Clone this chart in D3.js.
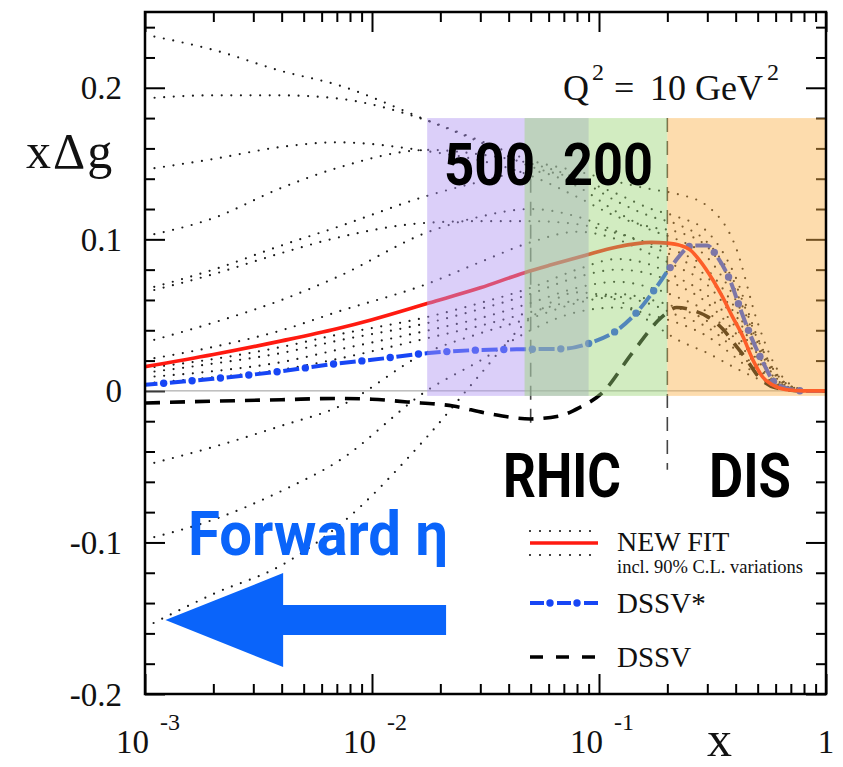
<!DOCTYPE html>
<html><head><meta charset="utf-8">
<script src="https://cdn.jsdelivr.net/npm/d3@7"></script>
<style>
html,body{margin:0;padding:0;background:#fff;}
svg{display:block;}
</style></head>
<body><svg id="chart" width="843" height="767"></svg>
<script>
// ---- data -------------------------------------------------------------
// shared x grid of the 90% C.L. variation curves
const varX = [0.001, 0.002, 0.004, 0.007, 0.0178, 0.03, 0.05, 0.08, 0.12, 0.17, 0.22, 0.3, 0.4, 0.5, 0.6, 0.7, 0.85, 1.0];
const varA  = [0.235, 0.225, 0.211, 0.202, 0.178, 0.164, 0.148, 0.140, 0.130, 0.120, 0.115, 0.105, 0.075, 0.035, 0.012, 0.003, 0, 0];
const varB  = [0.193, 0.195, 0.195, 0.193, 0.178, 0.165, 0.152, 0.145, 0.138, 0.133, 0.130, 0.122, 0.095, 0.045, 0.016, 0.004, 0, 0];
const varC  = [0.146, 0.153, 0.161, 0.164, 0.158, 0.152, 0.142, 0.128, 0.115, 0.108, 0.105, 0.095, 0.066, 0.032, 0.011, 0.003, 0, 0];
const varD  = [0.102, 0.114, 0.134, 0.147, 0.159, 0.156, 0.150, 0.140, 0.125, 0.115, 0.110, 0.098, 0.070, 0.034, 0.012, 0.003, 0, 0];
const varE1 = [0.065, 0.077, 0.091, 0.101, 0.111, 0.112, 0.112, 0.110, 0.104, 0.097, 0.092, 0.080, 0.054, 0.026, 0.009, 0.002, 0, 0];
const varE2 = [0.067, 0.080, 0.096, 0.108, 0.129, 0.138, 0.145, 0.135, 0.118, 0.106, 0.100, 0.088, 0.060, 0.029, 0.010, 0.002, 0, 0];
const varF  = [0.032, 0.045, 0.060, 0.075, 0.105, 0.115, 0.120, 0.115, 0.105, 0.095, 0.088, 0.075, 0.050, 0.024, 0.008, 0.002, 0, 0];
const varG  = [0.0205, 0.029, 0.040, 0.052, 0.071, 0.085, 0.098, 0.105, 0.100, 0.090, 0.082, 0.070, 0.046, 0.022, 0.007, 0.002, 0, 0];
const varH1 = [0.015, 0.021, 0.029, 0.037, 0.049, 0.058, 0.068, 0.080, 0.087, 0.083, 0.075, 0.063, 0.042, 0.020, 0.007, 0.001, 0, 0];
const varH2 = [0.012, 0.018, 0.025, 0.033, 0.045, 0.054, 0.064, 0.075, 0.080, 0.077, 0.070, 0.058, 0.038, 0.018, 0.006, 0.001, 0, 0];
const varH3 = [0.009, 0.013, 0.019, 0.027, 0.040, 0.048, 0.058, 0.068, 0.072, 0.068, 0.062, 0.052, 0.034, 0.016, 0.005, 0.001, 0, 0];
const varH4 = [0.005, 0.009, 0.014, 0.021, 0.035, 0.043, 0.052, 0.060, 0.064, 0.060, 0.055, 0.046, 0.030, 0.014, 0.005, 0.001, 0, 0];
const varI  = [-0.049, -0.037, -0.023, -0.011, 0.026, 0.038, 0.048, 0.058, 0.062, 0.057, 0.050, 0.042, 0.027, 0.013, 0.004, 0.001, 0, 0];
const varJ  = [-0.098, -0.085, -0.066, -0.047, 0.001, 0.020, 0.040, 0.052, 0.055, 0.050, 0.045, 0.036, 0.022, 0.010, 0.003, 0.001, 0, 0];
const varK  = [-0.156, -0.134, -0.115, -0.090, -0.029, 0.011, 0.048, 0.065, 0.060, 0.045, 0.034, 0.025, 0.015, 0.008, 0.003, 0.001, 0, 0];
const variations = [varA, varB, varC, varD, varE1, varE2, varF, varG, varH1, varH2, varH3, varH4, varI, varJ, varK];

// NEW FIT central curve
const newFitX = [0.001, 0.002, 0.004, 0.007, 0.01, 0.0178, 0.03, 0.047, 0.061, 0.085, 0.12, 0.17, 0.2, 0.228, 0.252, 0.278, 0.318, 0.35, 0.387, 0.43, 0.478, 0.527, 0.58, 0.67, 0.8, 1.0];
const newFitY = [0.016, 0.024, 0.033, 0.041, 0.047, 0.058, 0.068, 0.078, 0.083, 0.089, 0.095, 0.098, 0.0975, 0.096, 0.093, 0.086, 0.073, 0.062, 0.049, 0.036, 0.020, 0.009, 0.004, 0.0007, 0, 0];

// DSSV* curve
const dssvStarX = [0.001, 0.002, 0.004, 0.007, 0.01, 0.0178, 0.03, 0.05, 0.07, 0.093, 0.12, 0.149, 0.18, 0.21, 0.26, 0.3, 0.33, 0.38, 0.417, 0.464, 0.527, 0.61, 0.8, 1.0];
const dssvStarY = [0.004, 0.008, 0.013, 0.018, 0.0205, 0.025, 0.027, 0.0275, 0.0278, 0.032, 0.040, 0.053, 0.069, 0.083, 0.096, 0.096, 0.089, 0.072, 0.055, 0.037, 0.019, 0.004, 0, 0];

// DSSV curve
const dssvX = [0.001, 0.002, 0.004, 0.007, 0.01, 0.0143, 0.0228, 0.032, 0.05, 0.067, 0.082, 0.103, 0.14, 0.19, 0.22, 0.26, 0.3, 0.35, 0.4, 0.45, 0.5, 0.6, 0.8, 1.0];
const dssvY = [-0.008, -0.0068, -0.0058, -0.005, -0.0055, -0.0073, -0.010, -0.0147, -0.0185, -0.0165, -0.011, -0.0015, 0.025, 0.049, 0.055, 0.053, 0.049, 0.041, 0.030, 0.020, 0.010, 0.002, 0, 0];

// kinematic coverage bands (RHIC 500 GeV, RHIC 200 GeV, DIS)
const bandLabels = ["500", "200", "DIS"];
const bandFrom   = [0.0175, 0.047, 0.2];
const bandTo     = [0.09, 0.2, 1.0];
const bandTop = 0.18, bandBottom = -0.0033;

// boundaries marked with dashed verticals
const markX    = [0.05, 0.2];
const markTop  = [0.14, 0.18];
const markLow  = [-0.021, -0.052];

// axis ticks
const xMajor = [0.001, 0.01, 0.1, 1];
const xTickBase = ["10", "10", "10", "1"];
const xTickExp  = ["-3", "-2", "-1", ""];
const xMinor = [];
[0.001, 0.01, 0.1].forEach(d => { for (let k = 2; k <= 9; k++) xMinor.push(+(d * k).toPrecision(3)); });
const yMajor = [-0.2, -0.1, 0, 0.1, 0.2];
const yTickLabels = ["-0.2", "-0.1", "0", "0.1", "0.2"];
const yMinor = d3.range(-20, 25, 2).map(v => v / 100).filter(v => Math.abs(Math.round(v * 100) % 10) !== 0);

// ---- layout -----------------------------------------------------------
const L = 145, R = 826, T = 12, B = 694;
const svg = d3.select("#chart");
const x = d3.scaleLog().domain([0.001, 1]).range([L, R]);
const y = d3.scaleLinear().domain([-0.2, 0.25]).range([B, T]);

const serif = "'Liberation Serif','Times New Roman',Times,serif";
const sans = "Roboto,'Liberation Sans',Arial,sans-serif";

svg.append("defs").append("clipPath").attr("id", "plot")
  .append("rect").attr("x", L).attr("y", T).attr("width", R - L).attr("height", B - T);

const line = d3.line().x(d => x(d[0])).y(d => y(d[1])).curve(d3.curveMonotoneX);
const zip = (xs, ys) => xs.map((v, i) => [v, ys[i]]);

const under = svg.append("g");

// ticks on all four sides; the right-hand ones sit beneath the bands
function ticks(axisGen, tx, ty, size) {
  const g = under.append("g").attr("transform", `translate(${tx},${ty})`)
    .call(axisGen.tickSize(size).tickFormat(""));
  g.select(".domain").remove();
  g.selectAll("line").attr("stroke", "#000").attr("stroke-width", 2);
  return g;
}
ticks(d3.axisBottom(x).tickValues(xMajor), 0, B, -20);
ticks(d3.axisBottom(x).tickValues(xMinor), 0, B, -10);
ticks(d3.axisTop(x).tickValues(xMajor), 0, T, -20);
ticks(d3.axisTop(x).tickValues(xMinor), 0, T, -10);
ticks(d3.axisLeft(y).tickValues(yMajor), L, 0, -20);
ticks(d3.axisLeft(y).tickValues(yMinor), L, 0, -10);
ticks(d3.axisRight(y).tickValues(yMajor), R, 0, -20);
ticks(d3.axisRight(y).tickValues(yMinor), R, 0, -10);

const plot = under.append("g").attr("clip-path", "url(#plot)");

// zero line
plot.append("line").attr("x1", L).attr("x2", R).attr("y1", y(0)).attr("y2", y(0))
  .attr("stroke", "#9a9a9a").attr("stroke-width", 1);

// boundary markers
markX.forEach((v, i) => {
  plot.append("line").attr("x1", x(v)).attr("x2", x(v))
    .attr("y1", y(markTop[i])).attr("y2", y(markLow[i]))
    .attr("stroke", "#444").attr("stroke-width", 1.6).attr("stroke-dasharray", "14 9");
});

// 90% C.L. variations
variations.forEach(vals => {
  plot.append("path").attr("d", line(zip(varX, vals)))
    .attr("fill", "none").attr("stroke", "#1a1a1a").attr("stroke-width", 2.2)
    .attr("stroke-linecap", "round").attr("stroke-dasharray", "0 9.6");
});

// DSSV
plot.append("path").attr("d", line(zip(dssvX, dssvY)))
  .attr("fill", "none").attr("stroke", "#000").attr("stroke-width", 3.6)
  .attr("stroke-dasharray", "15 10");

// DSSV*
const blue = "#1746f5";
const starPath = plot.append("path").attr("d", line(zip(dssvStarX, dssvStarY)))
  .attr("fill", "none").attr("stroke", blue).attr("stroke-width", 4)
  .attr("stroke-dasharray", "16 12.5").attr("stroke-dashoffset", 3.5);
const sp = starPath.node(), sl = sp.getTotalLength();
for (let s = 18.75; s < sl; s += 28.5) {
  const p = sp.getPointAtLength(s);
  plot.append("circle").attr("cx", p.x).attr("cy", p.y).attr("r", 3.7).attr("fill", blue);
}

// NEW FIT
plot.append("path").attr("d", line(zip(newFitX, newFitY)))
  .attr("fill", "none").attr("stroke", "#ff1a10").attr("stroke-width", 3.6);

// ---- coverage bands, translucent over the curves -----------------------
const bandFill = ["rgb(176,148,242)", "rgb(156,212,118)", "rgb(250,178,74)"];
svg.append("g").selectAll("rect").data(bandLabels).join("rect")
  .attr("x", (d, i) => x(bandFrom[i]))
  .attr("width", (d, i) => x(bandTo[i]) - x(bandFrom[i]))
  .attr("y", y(bandTop)).attr("height", y(bandBottom) - y(bandTop))
  .attr("fill", (d, i) => bandFill[i]).attr("fill-opacity", 0.45);

// frame
svg.append("rect").attr("x", L).attr("y", T).attr("width", R - L).attr("height", B - T)
  .attr("fill", "none").attr("stroke", "#000").attr("stroke-width", 2.5);

// ---- tick labels -------------------------------------------------------
const yl = svg.append("g").attr("font-family", serif).attr("font-size", 33).attr("fill", "#111");
yMajor.forEach((v, i) => {
  yl.append("text").attr("x", 122).attr("y", y(v) + 11.5).attr("text-anchor", "end").text(yTickLabels[i]);
});
const xl = svg.append("g").attr("font-family", serif).attr("fill", "#111");
xMajor.forEach((v, i) => {
  if (xTickExp[i]) {
    xl.append("text").attr("x", x(v) + 4).attr("y", 753).attr("text-anchor", "end")
      .attr("font-size", 33).text(xTickBase[i]);
    xl.append("text").attr("x", x(v) + 15).attr("y", 730).attr("font-size", 24).text(xTickExp[i]);
  } else {
    xl.append("text").attr("x", x(v)).attr("y", 753).attr("text-anchor", "middle")
      .attr("font-size", 33).text(xTickBase[i]);
  }
});

// axis titles
svg.append("text").attr("x", 707).attr("y", 756).attr("font-family", serif)
  .attr("font-size", 50).attr("fill", "#111").text("x");
svg.append("text").attr("x", 26).attr("y", 168).attr("font-family", serif)
  .attr("font-size", 50).attr("letter-spacing", 2).attr("fill", "#111").text("xΔg");

// Q^2 annotation
const q = svg.append("text").attr("font-family", serif).attr("fill", "#111").attr("font-size", 36);
q.append("tspan").attr("x", 563).attr("y", 100).text("Q");
q.append("tspan").attr("x", 592).attr("y", 80).attr("font-size", 24).text("2");
q.append("tspan").attr("x", 614).attr("y", 100).text("=");
q.append("tspan").attr("x", 650).attr("y", 100).text("10");
q.append("tspan").attr("x", 695).attr("y", 100).text("GeV");
q.append("tspan").attr("x", 767).attr("y", 80).attr("font-size", 24).text("2");

// band labels
const big = svg.append("g").attr("font-family", sans).attr("font-weight", 700).attr("fill", "#000");
big.append("text").attr("x", 444).attr("y", 185).attr("font-size", 59)
  .attr("textLength", 91).attr("lengthAdjust", "spacingAndGlyphs").text(bandLabels[0]);
big.append("text").attr("x", 563).attr("y", 185).attr("font-size", 59)
  .attr("textLength", 90).attr("lengthAdjust", "spacingAndGlyphs").text(bandLabels[1]);
big.append("text").attr("x", 503).attr("y", 497).attr("font-size", 62)
  .attr("textLength", 118).attr("lengthAdjust", "spacingAndGlyphs").text("RHIC");
big.append("text").attr("x", 709).attr("y", 497).attr("font-size", 62)
  .attr("textLength", 82).attr("lengthAdjust", "spacingAndGlyphs").text(bandLabels[2]);

// forward rapidity arrow
const fwdBlue = "#0a64fa";
svg.append("text").attr("x", 188).attr("y", 555).attr("font-family", sans).attr("font-weight", 700)
  .attr("font-size", 62).attr("fill", fwdBlue)
  .attr("textLength", 260).attr("lengthAdjust", "spacingAndGlyphs").text("Forward η");
const aTip = 0.00123, aNeck = 0.00406, aEnd = 0.0212, aY = -0.1512, aHead = 0.031, aShaft = 0.0099;
svg.append("path").attr("fill", fwdBlue).attr("d", d3.line()([
  [x(aTip), y(aY)], [x(aNeck), y(aY + aHead)], [x(aNeck), y(aY + aShaft)], [x(aEnd), y(aY + aShaft)],
  [x(aEnd), y(aY - aShaft)], [x(aNeck), y(aY - aShaft)], [x(aNeck), y(aY - aHead)]
]) + "Z");

// ---- legend ------------------------------------------------------------
const lg = svg.append("g");
const lx0 = 530, lx1 = 598;
[531, 555].forEach(yy => lg.append("line").attr("x1", lx0).attr("x2", lx1).attr("y1", yy).attr("y2", yy)
  .attr("stroke", "#1a1a1a").attr("stroke-width", 2.2).attr("stroke-linecap", "round").attr("stroke-dasharray", "0 10"));
lg.append("line").attr("x1", lx0).attr("x2", lx1).attr("y1", 543).attr("y2", 543)
  .attr("stroke", "#ff1a10").attr("stroke-width", 3.6);
lg.append("line").attr("x1", lx0).attr("x2", lx1).attr("y1", 603).attr("y2", 603)
  .attr("stroke", blue).attr("stroke-width", 4).attr("stroke-dasharray", "14 13");
[550, 577].forEach(cx => lg.append("circle").attr("cx", cx).attr("cy", 603).attr("r", 3.7).attr("fill", blue));
lg.append("line").attr("x1", lx0).attr("x2", lx1).attr("y1", 657).attr("y2", 657)
  .attr("stroke", "#000").attr("stroke-width", 3.6).attr("stroke-dasharray", "13 13");
const lt = lg.append("g").attr("font-family", serif).attr("fill", "#111");
lt.append("text").attr("x", 617).attr("y", 551).attr("font-size", 28).text("NEW FIT");
lt.append("text").attr("x", 617).attr("y", 573).attr("font-size", 18.5).text("incl. 90% C.L. variations");
lt.append("text").attr("x", 617).attr("y", 613).attr("font-size", 29).text("DSSV*");
lt.append("text").attr("x", 617).attr("y", 667).attr("font-size", 29).text("DSSV");
</script>
</body></html>
